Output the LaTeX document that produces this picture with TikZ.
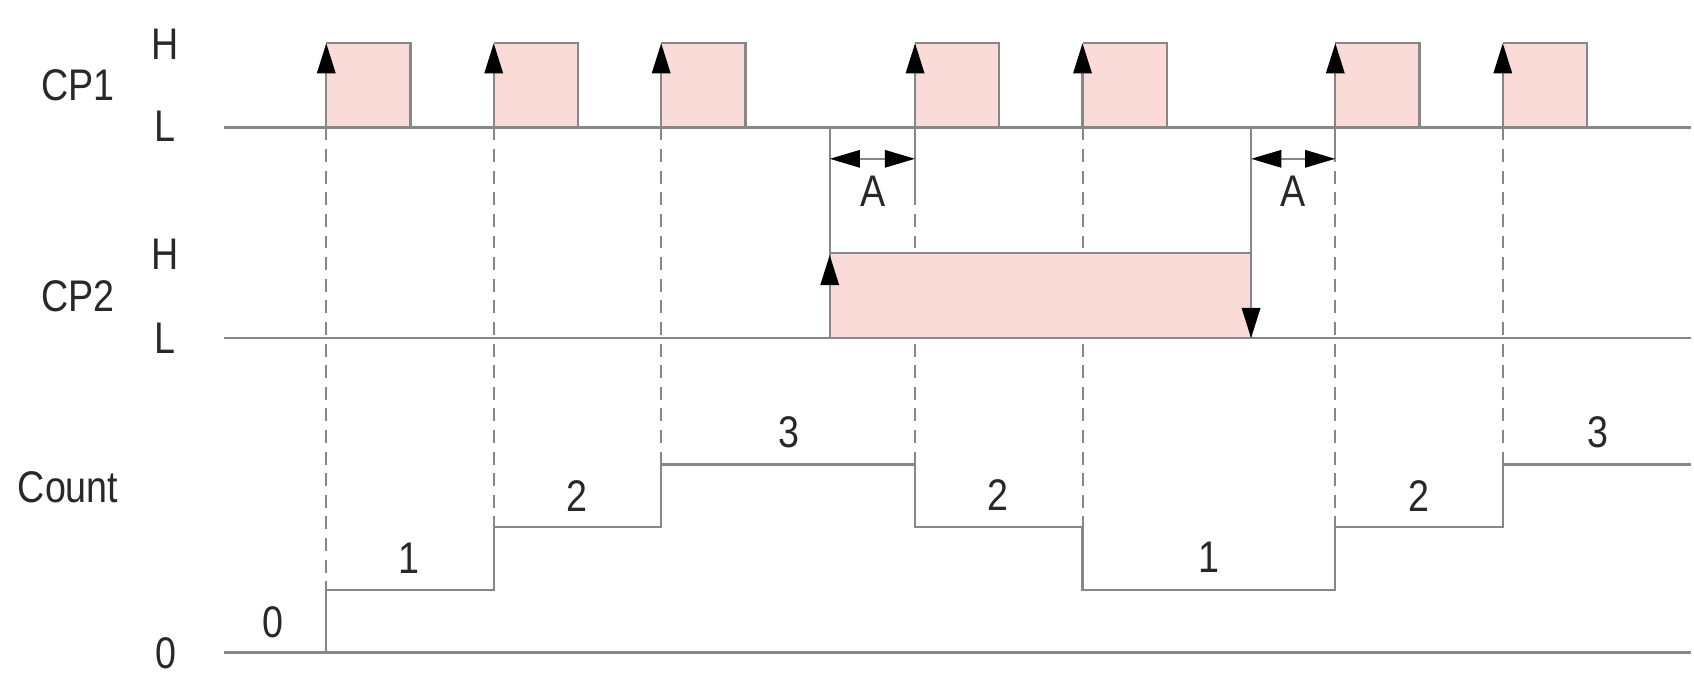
\documentclass[tikz,border=0pt]{standalone}
\usepackage{fontspec}
\setmainfont{Liberation Sans}[FakeStretch=0.85]
\usetikzlibrary{arrows.meta}
\definecolor{lg}{RGB}{135,135,135}
\definecolor{pk}{RGB}{250,219,215}
\definecolor{tx}{RGB}{40,40,40}
\begin{document}
\begin{tikzpicture}[x=0.5pt,y=-0.5pt,
  sig/.style={draw=lg,line width=1.05pt},
  guide/.style={draw=lg,line width=0.9pt,dash pattern=on 6pt off 4pt},
  tipped/.style={sig,-{Triangle[length=14pt,width=8.5pt,color=black]}},
  dimline/.style={sig,{Triangle[length=14pt,width=8pt,color=black]}-{Triangle[length=14pt,width=8pt,color=black]}},
  lbl/.style={inner sep=0pt,font=\fontsize{20.5}{24}\selectfont,text=tx}]
\useasboundingbox (0,0) rectangle (1568,625.7);
% guide (dashed) lines from CP1 rising edges down to the count trace
\foreach \x/\y in {302/546,457/488,612/430,847/430,1002/488,1236/488,1391/430}
  \draw[guide] (\x,118) -- (\x,\y);
% CP2 pulse fill
\fill[pk] (768,234) rectangle (1158,313);
% CP1 pulse fills
\foreach \x in {302,457,612,847,1002,1236,1391}
  \fill[pk] (\x,40) rectangle ++(78,78);
% base lines
\draw[sig] (207,118) -- (1565,118);
\draw[sig] (207,313) -- (1565,313);
\draw[sig] (207,604) -- (1565,604);
% CP1 pulses outline
\foreach \x in {302,457,612,847,1002,1236,1391} {
  \draw[sig] (\x,40) -- ++(78,0) -- ++(0,78);
  \draw[tipped] (\x,118) -- (\x,40);
}
% CP2 pulse outline and extension lines
\draw[sig] (768,118) -- (768,313);
\draw[sig] (1158,118) -- (1158,313);
\draw[sig] (768,234) -- (1158,234);
\draw[tipped] (768,313) -- (768,236);
\draw[tipped] (1158,234) -- (1158,313);
% solid parts of the dimension extension lines
\draw[sig] (847,118) -- (847,179);
\draw[sig] (1236,118) -- (1236,150);
% dimension arrows
\coordinate (a1l) at (768,147);
\coordinate (a1r) at (847,147);
\coordinate (a2l) at (1158,147);
\coordinate (a2r) at (1236,147);
\draw[dimline] (a1l) -- (a1r);
\draw[dimline] (a2l) -- (a2r);
% count trace
\draw[sig] (302,604) -- (302,546) -- (457,546) -- (457,488) -- (612,488) -- (612,430)
  -- (847,430) -- (847,488) -- (1002,488) -- (1002,546) -- (1236,546) -- (1236,488)
  -- (1391,488) -- (1391,430) -- (1565,430);
% labels
\node[lbl] (cp1) at (72,79) {CP1};
\node[lbl] (cp2) at (72,274) {CP2};
\node[lbl] (cnt) at (63,451) {Count};
\node[lbl] (h1) at (153,41) {H};
\node[lbl] (l1) at (153,117) {L};
\node[lbl] (h2) at (153,235) {H};
\node[lbl] (l2) at (153,313) {L};
\node[lbl] (z0) at (154,605) {0};
\node[lbl] (c0) at (253,576) {0};
\node[lbl] (c1) at (379,517) {1};
\node[lbl] (c2) at (534,459) {2};
\node[lbl] (c3) at (730,400) {3};
\node[lbl] (c4) at (924,458) {2};
\node[lbl] (c5) at (1119,516) {1};
\node[lbl] (c6) at (1313,459) {2};
\node[lbl] (c7) at (1479,400) {3};
\node[lbl] (da) at (808,177) {A};
\node[lbl] (db) at (1197,177) {A};
\end{tikzpicture}
\end{document}
